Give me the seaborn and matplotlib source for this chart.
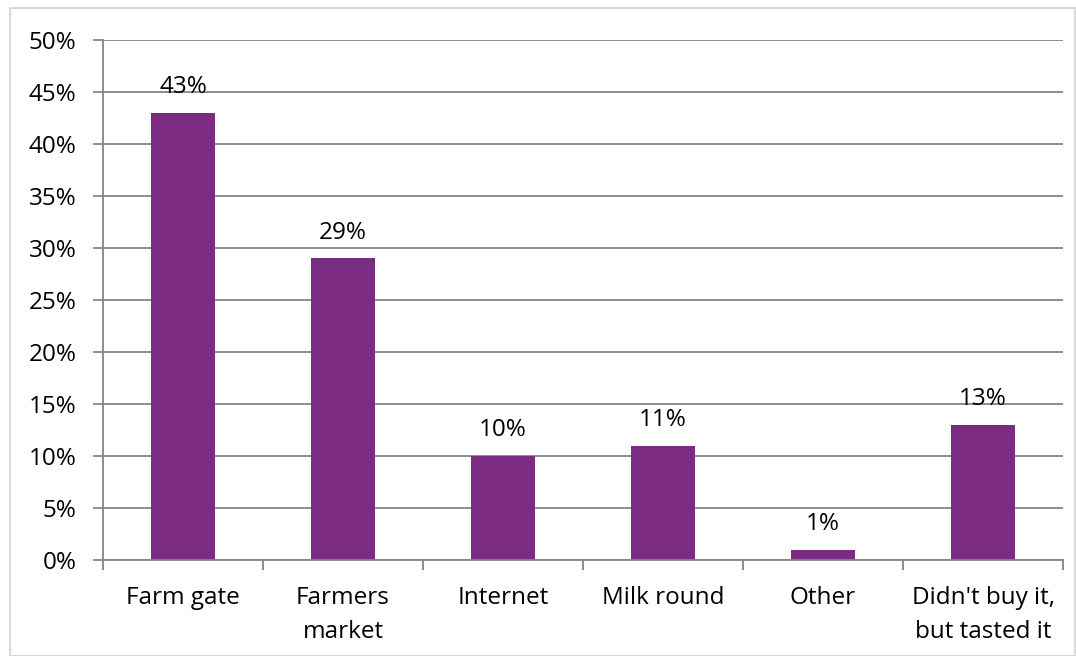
import matplotlib
matplotlib.use("Agg")
import matplotlib.pyplot as plt
import seaborn as sns
import pandas as pd
from matplotlib.patches import Rectangle
from matplotlib.ticker import FixedLocator, MultipleLocator

categories = ["Farm gate", "Farmers\nmarket", "Internet", "Milk round", "Other", "Didn't buy it,\nbut tasted it"]
values = [43, 29, 10, 11, 1, 13]
labels = ["43%", "29%", "10%", "11%", "1%", "13%"]

sns.set_theme(style="white")
plt.rcParams['font.family'] = ['Open Sans', 'DejaVu Sans']

df = pd.DataFrame({"cat": categories, "val": values})

fig = plt.figure(figsize=(10.76, 6.56), dpi=100)
ax = fig.add_axes([103/1076, 1-560/656, 960/1076, 520/656])

sns.barplot(data=df, x="cat", y="val", color="#7B2C82", width=0.4, saturation=1,
            linewidth=0, ax=ax)

ax.set_ylim(0, 50)
ax.set_xlim(-0.5, len(categories)-0.5)
ax.yaxis.set_major_locator(MultipleLocator(5))
ax.set_yticklabels([f"{int(t)}%" for t in ax.get_yticks()])
ax.yaxis.grid(True, color="#868686", linewidth=1.3)
ax.set_axisbelow(True)
ax.set_xlabel("")
ax.set_ylabel("")

for s in ["top", "right"]:
    ax.spines[s].set_visible(False)
for s in ["left", "bottom"]:
    ax.spines[s].set_color("#868686")
    ax.spines[s].set_linewidth(1.3)

FS = 17.5
ax.tick_params(axis="y", which="major", left=True, length=7, width=1.3, color="#868686",
               labelsize=FS, pad=12, labelcolor="black")
ax.set_xticks(range(len(categories)))
ax.set_xticklabels(categories, fontsize=FS, color="black", linespacing=1.52)
ax.tick_params(axis="x", which="major", bottom=False, length=0, pad=19)
ax.xaxis.set_minor_locator(FixedLocator([i - 0.5 for i in range(len(categories)+1)]))
ax.tick_params(axis="x", which="minor", bottom=True, length=7, width=1.3, color="#868686")
for lbl in ax.get_xticklabels():
    lbl.set_verticalalignment("top")

for i, (v, l) in enumerate(zip(values, labels)):
    ax.annotate(l, (i, v), xytext=(0, 10), textcoords="offset points",
                ha="center", va="bottom", fontsize=FS, color="black")

fig.patches.append(Rectangle((10/1076, 0), 1 - 10/1076 - 0.0005, 1 - 8/656, transform=fig.transFigure,
                             fill=False, edgecolor="#D9D9D9", linewidth=1.5))

fig.savefig("out.png", dpi=100)
